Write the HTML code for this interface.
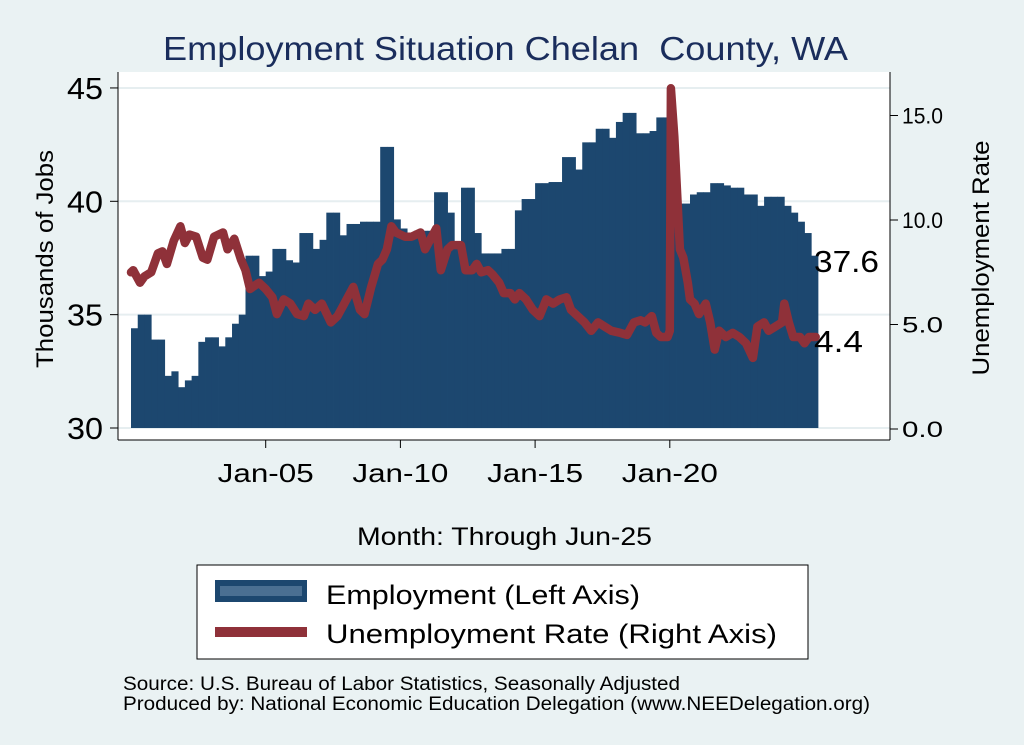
<!DOCTYPE html>
<html><head><meta charset="utf-8"><style>
body{margin:0;background:#eaf2f3;}
svg{display:block;font-family:"Liberation Sans",Arial,sans-serif;}
</style></head><body>
<svg id="chart" width="1024" height="745" viewBox="0 0 1024 745">
<rect x="0" y="0" width="1024" height="745" fill="#eaf2f3"/>
<text x="163" y="60" font-size="33" textLength="685" lengthAdjust="spacingAndGlyphs" fill="#1a2d5c">Employment Situation Chelan&#160; County, WA</text>
<rect x="118" y="72" width="772" height="368" fill="#ffffff"/>
<g id="grid"></g>
<g id="bars"></g>
<g id="line"></g>
<g id="axes"></g>
<text transform="translate(53,259) rotate(-90)" text-anchor="middle" font-size="24" textLength="218" lengthAdjust="spacingAndGlyphs" fill="#000">Thousands of Jobs</text>
<text transform="translate(989,258) rotate(-90)" text-anchor="middle" font-size="24" textLength="235" lengthAdjust="spacingAndGlyphs" fill="#000">Unemployment Rate</text>
<text x="357" y="545" font-size="25" textLength="295" lengthAdjust="spacingAndGlyphs" fill="#000">Month: Through Jun-25</text>
<text x="814" y="272" font-size="31" textLength="65" lengthAdjust="spacingAndGlyphs" fill="#000">37.6</text>
<text x="814" y="352" font-size="31" textLength="49" lengthAdjust="spacingAndGlyphs" fill="#000">4.4</text>
<g>
<rect x="197" y="565" width="611" height="94" fill="#fff" stroke="#000" stroke-width="1"/>
<rect x="215" y="580" width="92" height="22" fill="#1c476f"/>
<rect x="220" y="586" width="82" height="10" fill="#4a6f92"/>
<text x="326" y="604" font-size="27" textLength="314" lengthAdjust="spacingAndGlyphs" fill="#000">Employment (Left Axis)</text>
<line x1="215" y1="632" x2="307" y2="632" stroke="#8f3139" stroke-width="10"/>
<text x="326" y="643" font-size="27" textLength="451" lengthAdjust="spacingAndGlyphs" fill="#000">Unemployment Rate (Right Axis)</text>
</g>
<text x="123" y="690" font-size="19" textLength="557" lengthAdjust="spacingAndGlyphs" fill="#000">Source: U.S. Bureau of Labor Statistics, Seasonally Adjusted</text>
<text x="123" y="710" font-size="19" textLength="747" lengthAdjust="spacingAndGlyphs" fill="#000">Produced by: National Economic Education Delegation (www.NEEDelegation.org)</text>
</svg>
<script>
// quarterly employment (thousands), 2000Q1 .. 2025Q2
const employment = [34.4,35.0,35.0,33.9,33.9,32.3,32.5,31.8,32.1,32.3,33.8,34.0,34.0,33.6,34.0,34.6,35.0,37.6,37.6,36.7,36.9,37.9,37.9,37.4,37.3,38.6,38.6,37.9,38.3,39.5,39.5,38.5,39.0,39.0,39.1,39.1,39.1,42.4,42.4,39.2,38.8,38.6,38.7,38.7,38.7,40.4,40.4,39.5,38.2,40.6,40.6,38.6,37.7,37.7,37.7,37.9,37.9,39.6,40.1,40.1,40.8,40.8,40.85,40.85,41.95,41.95,41.4,42.6,42.6,43.2,43.2,42.8,43.5,43.9,43.9,43.0,43.0,43.1,43.7,43.7,43.0,39.9,39.9,40.3,40.4,40.4,40.8,40.8,40.7,40.6,40.6,40.3,40.3,39.8,40.2,40.2,40.2,39.8,39.5,39.1,38.6,37.6];
// unemployment rate: month index (0 = Jan-2000) and value
const rateMonths = [0,1,4,6,9,12,14,16,19,22,24,26,29,32,34,37,41,43,46,49,51,53,57,60,63,65,68,71,74,77,79,82,85,89,92,95,99,102,104,107,110,112,114,116,118,122,125,129,131,134,136,138,141,143,147,149,152,154,156,159,161,164,166,169,171,173,176,179,182,185,188,191,194,196,199,202,205,208,211,214,218,221,224,227,229,232,234,236,239,240,240.5,242,244.5,246,248,249,251,253,256,258,260,262,265,268,271,274,277,279,282,284,287,290,291,293,295,298,300,302,305];
const rateValues = [7.5,7.6,7.0,7.3,7.5,8.4,8.5,7.9,9.0,9.7,8.9,9.3,9.2,8.2,8.1,9.2,9.4,8.6,9.1,8.1,7.6,6.7,7.0,6.7,6.3,5.5,6.2,6.0,5.5,5.4,6.0,5.7,6.0,5.1,5.4,6.0,6.8,5.7,5.5,6.8,7.9,8.1,8.6,9.7,9.4,9.2,9.2,9.4,8.6,9.2,9.6,7.6,8.6,8.8,8.8,7.6,7.6,7.9,7.5,7.6,7.4,7.0,6.5,6.5,6.2,6.5,6.2,5.7,5.4,6.2,6.0,6.2,6.3,5.7,5.4,5.1,4.7,5.1,4.9,4.7,4.6,4.5,5.1,5.2,5.1,5.4,4.6,4.4,4.4,4.7,16.3,14.0,8.6,8.2,7.0,6.2,6.0,5.5,6.0,5.1,3.8,4.7,4.4,4.6,4.4,4.1,3.4,4.9,5.1,4.7,4.9,5.1,6.0,5.1,4.4,4.4,4.1,4.4,4.4];
const leftTicks = [30,35,40,45];
const rightTicks = [0,5,10,15];
const xTickYears = [2005,2010,2015,2020];
const xTickLabels = ["Jan-05","Jan-10","Jan-15","Jan-20"];

const NS="http://www.w3.org/2000/svg";
const x0=131, pxPerMonth=2.245;
const xM = m => x0 + m*pxPerMonth;
const yL = v => 428 - (v-30)*22.67;
const yR = v => 429 - v*20.9;
function mk(tag, attrs, parent){const e=document.createElementNS(NS,tag);for(const k in attrs)e.setAttribute(k,attrs[k]);parent.appendChild(e);return e;}
const grid=document.getElementById('grid'), bars=document.getElementById('bars'), line=document.getElementById('line'), axes=document.getElementById('axes');

leftTicks.forEach(t=>{
  const g=mk('line',{x1:118,x2:890,y1:yL(t),y2:yL(t),stroke:'#e6eef0','stroke-width':2},grid);
  
  
  const tk=mk('line',{x1:110,x2:118,y1:yL(t),y2:yL(t),stroke:'#000','stroke-width':1},axes);
  
  
  const tx=mk('text',{x:103,y:yL(t)+11,'text-anchor':'end','font-size':31,textLength:36,lengthAdjust:'spacingAndGlyphs',fill:'#000'},axes);
  tx.textContent=t;
  
  
});
rightTicks.forEach(t=>{
  const tk=mk('line',{x1:890,x2:898,y1:yR(t),y2:yR(t),stroke:'#000','stroke-width':1},axes);
  
  
  const tx=mk('text',{x:902,y:yR(t)+8,'font-size':22,textLength:41,lengthAdjust:'spacingAndGlyphs',fill:'#000'},axes);
  tx.textContent=t.toFixed(1);
  
  
});
xTickYears.forEach((yr,i)=>{
  const x=xM((yr-2000)*12);
  const tk=mk('line',{x1:x,x2:x,y1:440,y2:448,stroke:'#000','stroke-width':1},axes);
  
  
  const tx=mk('text',{x:x,y:482,'text-anchor':'middle','font-size':26,textLength:96,lengthAdjust:'spacingAndGlyphs',fill:'#000'},axes);
  tx.textContent=xTickLabels[i];
  
  
});
const ax1=mk('line',{x1:118,x2:118,y1:72,y2:440,stroke:'#000','stroke-width':1},axes);


const ax2=mk('line',{x1:890,x2:890,y1:72,y2:440,stroke:'#000','stroke-width':1},axes);


const ax3=mk('line',{x1:118,x2:890,y1:440,y2:440,stroke:'#000','stroke-width':1},axes);



employment.forEach((v,i)=>{
  const xa=xM(i*3), xb=xM(i*3+3);
  const b=mk('rect',{x:xa,y:yL(v),width:xb-xa+0.4,height:yL(30)-yL(v),fill:'#1c476f'},bars);
  
  
});
const pts=rateMonths.map((m,i)=>xM(m).toFixed(1)+','+yR(rateValues[i]).toFixed(1)).join(' ');
const pl=mk('polyline',{points:pts,fill:'none',stroke:'#8f3139','stroke-width':8.5,'stroke-linejoin':'round','stroke-linecap':'round'},line);


</script>
</body></html>
